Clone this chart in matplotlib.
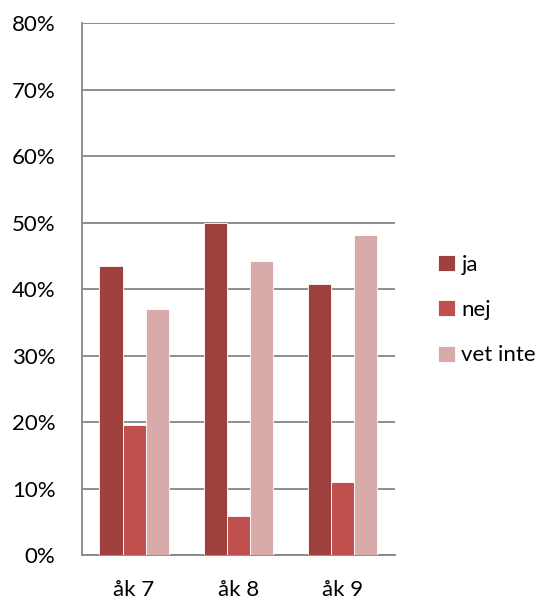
import numpy as np
import matplotlib.pyplot as plt

categories = ["åk 7", "åk 8", "åk 9"]
series_names = ["ja", "nej", "vet inte"]
ja = [43.5, 50.0, 40.8]
nej = [19.6, 5.8, 11.0]
vet_inte = [37.0, 44.2, 48.2]
y_ticks = [0, 10, 20, 30, 40, 50, 60, 70, 80]
colors = ["#9E413E", "#C0504D", "#D9AAAA"]


def main():
    plt.rcParams["font.family"] = ["Lato", "DejaVu Sans"]
    fig = plt.figure(figsize=(5.44, 6.01), dpi=100)
    ax = fig.add_axes([0.1507, 0.0765, 0.575, 0.885])

    x = np.arange(len(categories))
    width = 1 / 4.5
    for i, (name, vals) in enumerate(zip(series_names, [ja, nej, vet_inte])):
        ax.bar(x + (i - 1) * width, vals, width, color=colors[i],
               edgecolor="white", linewidth=0.6, label=name, zorder=3)

    ax.set_xlim(-0.5, len(categories) - 0.5)
    ax.set_ylim(0, 80)
    ax.set_yticks(y_ticks)
    ax.set_yticklabels([f"{t}%" for t in y_ticks])
    ax.set_xticks(x)
    ax.set_xticklabels(categories)
    ax.tick_params(axis="both", length=0, labelsize=16, colors="black")
    ax.tick_params(axis="y", pad=19)
    ax.tick_params(axis="x", pad=18)
    ax.grid(axis="y", color="#868686", linewidth=1.3, zorder=0)

    for side in ["top", "right"]:
        ax.spines[side].set_visible(False)
    for side in ["left", "bottom"]:
        ax.spines[side].set_color("#868686")
        ax.spines[side].set_linewidth(1.3)

    ax.legend(loc="center left", bbox_to_anchor=(1.11, 0.4605), frameon=False,
              fontsize=16, handlelength=0.75, handleheight=0.75,
              handletextpad=0.3, labelspacing=1.14, borderaxespad=0)

    plt.savefig("out.png", dpi=100)


if __name__ == "__main__":
    main()
